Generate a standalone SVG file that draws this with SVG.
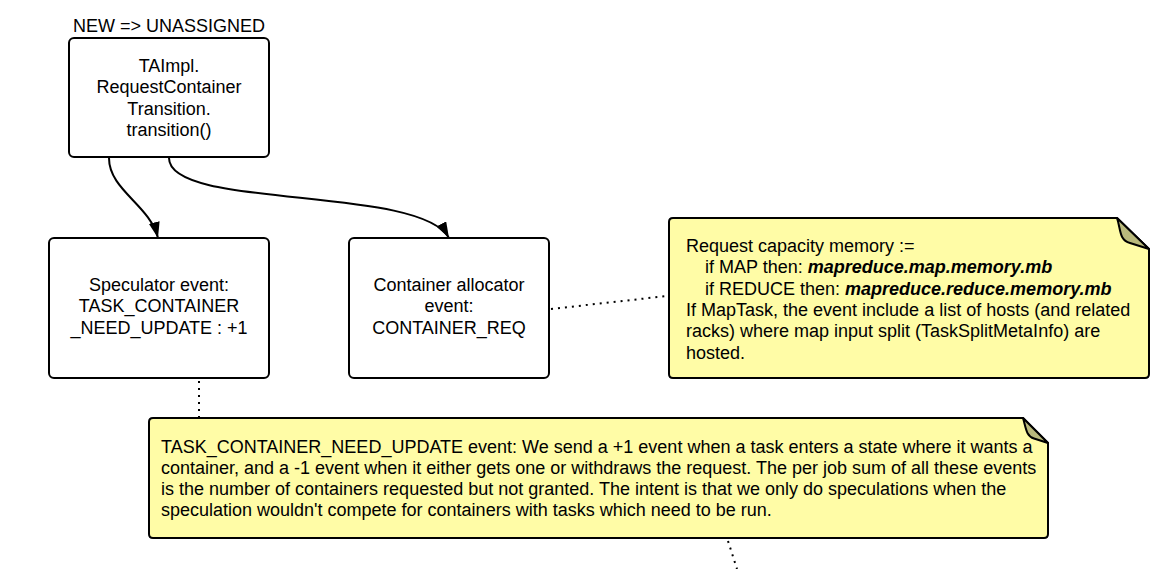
<svg xmlns="http://www.w3.org/2000/svg" width="1172" height="569" viewBox="0 0 1172 569">
<style>
text{font-family:"Liberation Sans",Arial,sans-serif;font-size:18px;fill:#000}
.c{text-anchor:middle}
.box{fill:#fff;stroke:#000;stroke-width:2}
.note{fill:#fffca6;stroke:#000;stroke-width:2;stroke-linejoin:round}
.fold{fill:#b9b97c;stroke:#000;stroke-width:2;stroke-linejoin:round}
.edge{fill:none;stroke:#000;stroke-width:2}
.dot{fill:none;stroke:#000;stroke-width:2;stroke-dasharray:2 5}
.b{font-weight:bold;font-style:italic}
</style>
<defs>
<marker id="arr" markerWidth="16" markerHeight="11" refX="16" refY="5.5" orient="auto" markerUnits="userSpaceOnUse">
<path d="M0,0 L16,5.5 L0,11 Z" fill="#000"/>
</marker>
</defs>
<rect width="1172" height="569" fill="#fff"/>
<g id="connectors">
<path class="edge" d="M109,158 C109,190 150,205 158,238" marker-end="url(#arr)"/>
<path class="edge" d="M169,158 C169,210 420,185 449,238" marker-end="url(#arr)"/>
<path class="dot" d="M551,309 L667,296"/>
<path class="dot" d="M199,381 L199,417"/>
<path class="dot" d="M728,541 L737,569"/>
</g>
<g id="label-state">
<text class="c" x="169" y="32">NEW =&gt; UNASSIGNED</text>
</g>
<g id="node-transition">
<rect class="box" x="69" y="38" width="200" height="119" rx="5"/>
<text class="c" x="169" y="72">TAImpl.</text>
<text class="c" x="169" y="93.3">RequestContainer</text>
<text class="c" x="169" y="114.6">Transition.</text>
<text class="c" x="169" y="136">transition()</text>
</g>
<g id="node-speculator">
<rect class="box" x="49" y="238" width="220" height="140" rx="5"/>
<text class="c" x="159" y="291">Speculator event:</text>
<text class="c" x="159" y="312.3">TASK_CONTAINER</text>
<text class="c" x="159" y="333.6">_NEED_UPDATE : +1</text>
</g>
<g id="node-allocator">
<rect class="box" x="349" y="238" width="200" height="140" rx="5"/>
<text class="c" x="449" y="291">Container allocator</text>
<text class="c" x="449" y="312.3">event:</text>
<text class="c" x="449" y="333.6">CONTAINER_REQ</text>
</g>
<g id="note-memory">
<path class="note" d="M673,218 L1117,218 L1149,249 L1149,374 Q1149,378 1145,378 L673,378 Q669,378 669,374 L669,222 Q669,218 673,218 Z"/>
<path class="fold" d="M1117,218 C1121,230 1119,240 1130,243 L1149,249 Z"/>
<text x="686" y="252">Request capacity memory :=</text>
<text x="705" y="273.3">if MAP then: <tspan class="b">mapreduce.map.memory.mb</tspan></text>
<text x="705" y="294.6">if REDUCE then: <tspan class="b">mapreduce.reduce.memory.mb</tspan></text>
<text x="686" y="316">If MapTask, the event include a list of hosts (and related</text>
<text x="686" y="337.3">racks) where map input split (TaskSplitMetaInfo) are</text>
<text x="686" y="358.6">hosted.</text>
</g>
<g id="note-need-update">
<path class="note" d="M153,418 L1023,418 L1048,443 L1048,534 Q1048,538 1044,538 L153,538 Q149,538 149,534 L149,422 Q149,418 153,418 Z"/>
<path class="fold" d="M1023,418 C1026,428 1026,436 1034,438.5 L1048,443 Z"/>
<text x="161" y="452.7">TASK_CONTAINER_NEED_UPDATE event: We send a +1 event when a task enters a state where it wants a</text>
<text x="161" y="473.8">container, and a -1 event when it either gets one or withdraws the request. The per job sum of all these events</text>
<text x="161" y="494.9">is the number of containers requested but not granted. The intent is that we only do speculations when the</text>
<text x="161" y="516">speculation wouldn't compete for containers with tasks which need to be run.</text>
</g>
</svg>
